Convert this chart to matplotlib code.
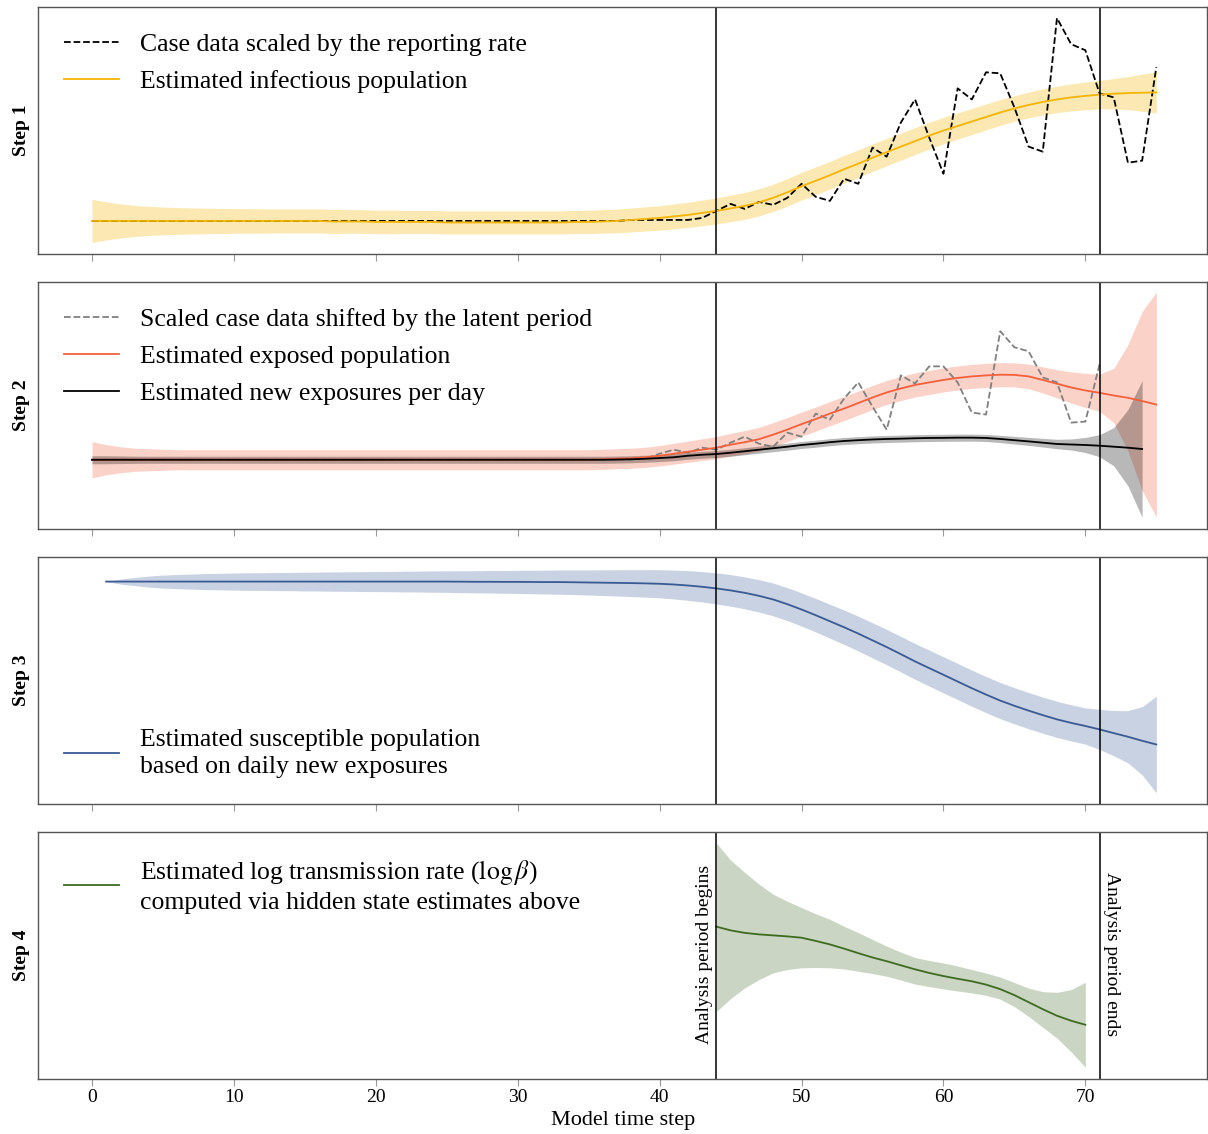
import numpy as np
import matplotlib
matplotlib.use("Agg")
import matplotlib.pyplot as plt

plt.rcParams['font.family'] = ['Liberation Serif', 'DejaVu Serif']
plt.rcParams['mathtext.fontset'] = 'stix'

# ---- data (arbitrary units) ----
# step 1
t_case = np.arange(0, 76)
case_scaled = [33, 33, 33, 33, 33, 33, 33, 33, 33, 33,
               33, 33, 33, 33, 33, 33, 33, 33, 33, 33,
               33, 33, 33, 33, 33, 33, 33, 33, 33, 33,
               33, 33, 33, 33, 33, 33, 33, 33, 34, 34,
               34, 34, 34, 36, 43, 50, 45, 52, 49, 56,
               70, 57, 53, 75, 70, 106, 97, 131, 154, 116,
               80, 165, 154, 181, 180, 146, 107, 102, 235, 209,
               203, 160, 156, 91, 93, 186]
infectious = [33, 33, 33, 33, 33, 33, 33, 33, 33, 33,
              33, 33, 33, 33, 33, 33, 33, 32.5, 32.5, 32.5,
              32, 32, 32, 32, 32, 31.5, 31.5, 31.5, 31.5, 31.5,
              31.5, 31.5, 31.5, 31.5, 32, 32, 32.5, 33, 34, 35,
              36, 37.5, 39, 41, 43, 45.5, 48, 51.5, 56, 61.5,
              67.5, 73, 78.5, 84.5, 90, 96, 101.5, 107, 112.5, 118,
              123, 127.5, 132, 136.5, 141, 145, 148.5, 151.5, 154, 156,
              157.5, 158.8, 159.7, 160.3, 160.7, 161]
infectious_sd = [21.5, 19, 17, 15.5, 14.5, 13.8, 13.3, 13, 12.7, 12.5,
                 12.3, 12.2, 12.1, 12, 12, 12, 12, 11.9, 11.8, 11.8,
                 11.7, 11.7, 11.6, 11.6, 11.6, 11.5, 11.5, 11.5, 11.5, 11.5,
                 11.5, 11.5, 11.5, 11.5, 11.6, 11.6, 11.7, 11.8, 11.9, 12,
                 12.2, 12.4, 12.6, 12.8, 13, 13.2, 13.4, 13.5, 13.6, 13.7,
                 13.8, 13.8, 13.8, 13.8, 13.8, 13.7, 13.6, 13.5, 13.4, 13.3,
                 13.2, 13.1, 13, 12.9, 12.8, 12.7, 12.8, 13, 13.2, 13.5,
                 13.8, 14.2, 15, 16.5, 18.5, 20.5]

# step 2
t_shift = np.arange(0, 72)
case_shifted = [69, 69, 69, 69, 69, 69, 69, 69, 69, 69,
                69, 69, 69, 69, 69, 69, 69, 69, 69, 69,
                69, 69, 69, 69, 69, 69, 69, 69, 69, 69,
                69, 69, 69, 69, 69, 69, 69, 69, 69, 70,
                75, 79, 76, 81, 79, 86, 92, 85, 82, 96,
                92, 115, 109, 130, 146, 122, 99, 153, 145, 162,
                162, 146, 116, 114, 197, 181, 177, 151, 146, 106,
                107, 164]
t_exp = np.arange(0, 76)
exposed = [69, 69, 69, 69, 69, 69, 69, 69, 69, 69,
           69, 69, 69, 69, 69, 69, 69, 69, 69, 69,
           69, 69, 69, 69, 69, 69, 69, 69, 69, 69,
           69, 69, 69, 69, 69, 69, 69.5, 70, 70.5, 71.5,
           73, 75, 77, 79, 81, 84, 86.5, 89.5, 94, 99,
           104.5, 109.5, 115, 120, 125.5, 131, 136, 140, 143.5, 146,
           148.5, 150.5, 152, 153, 153.7, 153.5, 152, 148.5, 144.7, 141,
           138, 135.7, 133, 130.7, 127.5, 124]
exposed_sd = [18, 15, 13, 11.5, 11, 10.5, 10, 10, 10, 10,
              10, 10, 10, 10, 10, 10, 10, 10, 10, 10,
              10, 10, 10, 10, 10, 10, 10, 10, 10, 10,
              10, 10, 10, 10, 10, 10, 10, 10, 10, 10,
              10.2, 10.4, 10.6, 10.8, 11, 11.3, 11.6, 11.8, 12, 12,
              12, 12, 12, 12, 12, 12, 12, 12, 12, 12,
              12, 12, 12, 12, 12, 12, 12.3, 13, 14, 15.5,
              17, 18.5, 27, 53, 89, 112]
t_new = np.arange(0, 75)
new_exposures = [69, 69, 69, 69, 69, 69, 69, 69, 69, 69,
                 69, 69, 69, 69, 69, 69, 69, 69, 69, 69,
                 69, 69, 69, 69, 69, 69, 69, 69, 69, 69,
                 69, 69, 69, 69, 69, 69, 69, 69.2, 69.5, 70,
                 70.7, 71.5, 73, 74, 74.7, 76, 77.5, 79, 80.5, 82,
                 83.7, 85, 86.5, 87.7, 88.5, 89.2, 89.7, 90, 90.4, 90.7,
                 90.8, 91, 91, 90.7, 89.7, 88.5, 87.3, 86, 84.7, 84.2,
                 83.7, 83, 82, 81, 79.7]
new_exposures_sd = [4, 4, 3.8, 3.6, 3.5, 3.5, 3.5, 3.5, 3.5, 3.5,
                    3.5, 3.5, 3.5, 3.5, 3.5, 3.5, 3.5, 3.5, 3.5, 3.5,
                    3.5, 3.5, 3.5, 3.5, 3.5, 3.5, 3.5, 3.5, 3.5, 3.5,
                    3.5, 3.5, 3.5, 3.5, 3.5, 3.5, 3.5, 3.5, 3.5, 3.5,
                    3.5, 3.5, 3.5, 3.5, 3.5, 3.5, 3.5, 3.5, 3.5, 3.5,
                    3.5, 3.5, 3.5, 3.5, 3.5, 3.5, 3.5, 3.5, 3.5, 3.5,
                    3.5, 3.5, 3.5, 3.5, 3.6, 3.8, 4, 4.3, 4.7, 5.5,
                    7.5, 11, 19, 38, 68]

# step 3
t_sus = np.arange(1, 76)
susceptible = [221.5, 221.5, 221.5, 221.5, 221.5, 221.5, 221.5, 221.5, 221.5, 221.5,
               221.5, 221.5, 221.5, 221.5, 221.5, 221.5, 221.5, 221.5, 221.5, 221.5,
               221.5, 221.5, 221.5, 221.5, 221.5, 221.4, 221.3, 221.3, 221.2, 221.2,
               221.1, 221, 221, 220.8, 220.6, 220.4, 220.2, 220, 219.7, 219.3,
               218.6, 217.6, 216.3, 214.7, 212.7, 210.3, 207.3, 203.7, 199, 193.7,
               188, 182, 176, 169.7, 163, 156.3, 149.2, 142, 135.3, 128.7,
               122, 115.3, 109, 103, 97.8, 93, 88.5, 84.3, 80.8, 77.7,
               74.3, 70.6, 67, 63, 59.3]
susceptible_sd = [0, 2.5, 4, 5.5, 6.5, 7, 7.5, 8, 8.2, 8.5,
                  8.7, 8.8, 9, 9.1, 9.3, 9.4, 9.6, 9.7, 9.9, 10,
                  10.1, 10.3, 10.4, 10.6, 10.7, 10.9, 11, 11.2, 11.3, 11.5,
                  11.7, 11.9, 12.1, 12.3, 12.5, 12.8, 13.1, 13.4, 13.7, 14,
                  14.4, 14.8, 15.1, 15.5, 15.7, 15.9, 16.1, 16.3, 16.4, 16.5,
                  16.7, 16.9, 17.1, 17.3, 17.5, 17.6, 17.7, 17.8, 17.9, 18,
                  18, 18, 18, 18, 18, 18, 18, 18, 18, 18,
                  20, 22.5, 26, 34, 48]

# step 4
t_beta = np.arange(44, 71)
log_beta = [151.7, 148, 145.5, 144, 143, 142, 140.7, 137.5, 134, 129.8,
            125.3, 121, 117.3, 113.2, 109.2, 105.6, 102.5, 99.8, 97.3, 94,
            89.5, 83.5, 76.5, 69.5, 63, 58, 54]
log_beta_hi = [235, 218, 205.7, 194, 184, 177, 170.7, 164.5, 159, 152,
               145.7, 139, 132.3, 126.3, 121, 118, 115.5, 112.5, 109, 105.5,
               101.5, 96, 90.5, 87, 86.3, 89, 96.3]
log_beta_lo = [67.3, 80, 90.7, 99, 105.7, 109, 110.7, 111, 110.7, 109.5,
               107.3, 105, 102.3, 98.5, 94.5, 92, 89.7, 87.6, 85.7, 83.3,
               79.5, 72, 62.3, 51.5, 40.7, 27, 11.7]

analysis_start = 44
analysis_end = 71

orange = '#f5b400'
red = '#f4603c'
blue = '#3a5a94'
green = '#3e6b22'

fig, ax = plt.subplots(4, 1, sharex=True, figsize=(12.08, 11.34), dpi=100)
plt.subplots_adjust(left=0.0315, right=0.9995, top=0.9938, bottom=0.0485, hspace=0.113)

leg_kw = dict(frameon=False, fontsize=18.5, handlelength=2.15, handletextpad=0.8,
              labelspacing=0.55, borderaxespad=0.6)


def loose_lines(leg):
    for txt in leg.get_texts():
        txt.set_linespacing(1.3)


# Step 1
inf = np.array(infectious)
inf_sd = np.array(infectious_sd)
ax[0].plot(t_case, case_scaled, '--', color='black', lw=1.3,
           label='Case data scaled by the reporting rate')
ax[0].plot(t_case, inf, color=orange, lw=1.3, label='Estimated infectious population')
ax[0].fill_between(t_case, inf - inf_sd, inf + inf_sd, color=orange, alpha=0.3, lw=0)
ax[0].legend(loc='upper left', **leg_kw)

# Step 2
ex = np.array(exposed)
ex_sd = np.array(exposed_sd)
ne = np.array(new_exposures)
ne_sd = np.array(new_exposures_sd)
ax[1].plot(t_shift, case_shifted, '--', color='gray', lw=1.3,
           label='Scaled case data shifted by the latent period')
ax[1].plot(t_exp, ex, color=red, lw=1.3, label='Estimated exposed population')
ax[1].fill_between(t_exp, ex - ex_sd, ex + ex_sd, color=red, alpha=0.28, lw=0)
ax[1].plot(t_new, ne, color='black', lw=1.3, label='Estimated new exposures per day')
ax[1].fill_between(t_new, ne - ne_sd, ne + ne_sd, color='black', alpha=0.28, lw=0)
ax[1].legend(loc='upper left', **leg_kw)

# Step 3
su = np.array(susceptible)
su_sd = np.array(susceptible_sd)
ax[2].plot(t_sus, su, color=blue, lw=1.3,
           label='Estimated susceptible population\nbased on daily new exposures')
ax[2].fill_between(t_sus, su - su_sd, su + su_sd, color=blue, alpha=0.27, lw=0)
loose_lines(ax[2].legend(loc='lower left', **leg_kw))

# Step 4
ax[3].plot(t_beta, log_beta, color=green, lw=1.3,
           label='Estimated log transmission rate ($\\log\\beta$)\ncomputed via hidden state estimates above')
ax[3].fill_between(t_beta, log_beta_lo, log_beta_hi, color=green, alpha=0.27, lw=0)
loose_lines(ax[3].legend(loc='upper left', **leg_kw))
ax[3].text(analysis_start - 0.25, 124, 'Analysis period begins', rotation=90,
           ha='right', va='center', fontsize=14)
ax[3].text(analysis_end + 0.25, 124, 'Analysis period ends', rotation=270,
           ha='left', va='center', fontsize=14)

for i, a in enumerate(ax):
    a.axvline(analysis_start, color='black', lw=1.1)
    a.axvline(analysis_end, color='black', lw=1.1)
    a.set_ylim(0, 246)
    a.set_yticks([])
    a.set_ylabel('Step %d' % (i + 1), fontsize=14, fontweight='bold', labelpad=6)
    for s in a.spines.values():
        s.set_color('#555555')
        s.set_linewidth(1.0)
    a.tick_params(axis='x', color='#999999', length=5, labelsize=14, pad=2)

ax[3].set_xlim(-3.8, 78.6)
ax[3].set_xticks([0, 10, 20, 30, 40, 50, 60, 70])
ax[3].set_xlabel('Model time step', fontsize=16, labelpad=4)

plt.savefig('out.png', dpi=100)
